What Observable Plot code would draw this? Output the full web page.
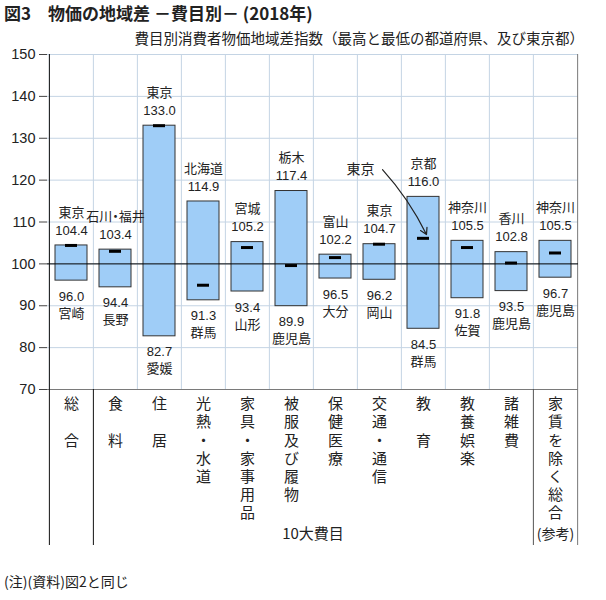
<!DOCTYPE html>
<html><head><meta charset="utf-8">
<script src="https://cdn.jsdelivr.net/npm/d3@7"></script>
<script src="https://cdn.jsdelivr.net/npm/@observablehq/plot@0.6"></script>
<style>
body{margin:0;background:#fff;font-family:"Noto Sans CJK JP",sans-serif;color:#222;}
#wrap{position:relative;width:606px;height:600px;overflow:hidden;background:#fff;}
#title{position:absolute;left:4px;top:0px;font-size:17px;font-weight:bold;white-space:nowrap;}
#subtitle{position:absolute;right:22px;top:27px;font-size:14.5px;white-space:nowrap;}
#chart{position:absolute;left:0;top:46px;}
#note{position:absolute;left:4px;top:571px;font-size:14px;white-space:nowrap;}
</style></head>
<body><div id="wrap">
<div id="title">図3　物価の地域差 －費目別－ (2018年)</div>
<div id="subtitle">費目別消費者物価地域差指数（最高と最低の都道府県、及び東京都）</div>
<div id="chart"></div>
<div id="note">(注)(資料)図2と同じ</div>
</div>
<script>
const categories = ["総合","食料","住居","光熱・水道","家具・家事用品","被服及び履物","保健医療","交通・通信","教育","教養娯楽","諸雑費","家賃を除く総合"];
const categoryLabels = ["総　合","食　料","住　居","光熱・水道","家具・家事用品","被服及び履物","保健医療","交通・通信","教　育","教養娯楽","諸雑費","家賃を除く総合"];
const maxValues = [104.4,103.4,133.0,114.9,105.2,117.4,102.2,104.7,116.0,105.5,102.8,105.5];
const maxPrefs = ["東京","石川・福井","東京","北海道","宮城","栃木","富山","東京","京都","神奈川","香川","神奈川"];
const minValues = [96.0,94.4,82.7,91.3,93.4,89.9,96.5,96.2,84.5,91.8,93.5,96.7];
const minPrefs = ["宮崎","長野","愛媛","群馬","山形","鹿児島","大分","岡山","群馬","佐賀","鹿児島","鹿児島"];
const tokyoValues = [104.4,103.0,133.0,94.9,103.9,99.6,101.5,104.7,106.1,103.9,100.2,102.6];
const yTicks = [70,80,90,100,110,120,130,140,150];
const groupLabel = "10大費目";
const refLabel = "(参考)";
const annotation = {text:"東京", from:"交通・通信", fromY:122.5, to:"教育", toY:107.0};

const data = categories.map((c,i)=>({cat:c,label:categoryLabels[i],max:maxValues[i],maxPref:maxPrefs[i],min:minValues[i],minPref:minPrefs[i],tokyo:tokyoValues[i]}));

const W=606,H=520,mL=47,mR=28,mT=8,mB=177;
const bw=(W-mL-mR)/categories.length;
const plotH=H-mT-mB;
const grid="#c4d4e4";
const jp='"Noto Sans CJK JP",sans-serif';
const num='"Liberation Sans",Arial,sans-serif';

const chart = Plot.plot({
  width:W,height:H,marginLeft:mL,marginRight:mR,marginTop:mT,marginBottom:mB,
  style:{fontFamily:jp,fontSize:"13px",color:"#222",background:"#fff",overflow:"visible"},
  x:{type:"band",domain:categories,padding:0,axis:null},
  y:{domain:[70,150],axis:null},
  marks:[
    Plot.ruleY(yTicks,{stroke:grid}),
    Plot.ruleX(categories,{x:d=>d,dx:-bw/2,stroke:grid}),
    Plot.ruleX([100],{x:()=>categories[categories.length-1],dx:bw/2,stroke:"#7a7a7a"}),
    Plot.ruleY([70],{stroke:"#7a7a7a"}),
    Plot.ruleX([categories[0],categories[1]],{x:d=>d,dx:-bw/2,insetTop:plotH,insetBottom:-156,stroke:"#111"}),
    Plot.ruleX([categories[11]],{x:d=>d,dx:-bw/2,insetTop:plotH,insetBottom:-156,stroke:"#555"}),
    Plot.ruleX([categories[11]],{x:d=>d,dx:bw/2,insetTop:plotH,insetBottom:-156,stroke:"#777"}),
    Plot.barY(data,{x:"cat",y1:"min",y2:"max",fill:"#9fcdf7",stroke:"#333",strokeWidth:1,insetLeft:6,insetRight:6}),
    Plot.ruleY([100],{stroke:"#000",strokeWidth:1}),
    Plot.tickY(data,{x:"cat",y:"tokyo",stroke:"#000",strokeWidth:3,insetLeft:16,insetRight:16}),
    Plot.ruleX([0],{x:()=>categories[0],dx:-bw/2,stroke:"#111"}),
    Plot.axisY({ticks:yTicks,tickSize:8,tickPadding:4,label:null,fontSize:14.5,fontFamily:num,stroke:"#444",fill:"#222"}),
    Plot.text(data,{x:"cat",y:"max",text:d=>d.max.toFixed(1),dy:-15,fontFamily:num,fontSize:13,fill:"#222"}),
    Plot.text(data,{x:"cat",y:"max",text:"maxPref",dy:-33,fontSize:13,fill:"#222"}),
    Plot.text(data,{x:"cat",y:"min",text:d=>d.min.toFixed(1),dy:16,fontFamily:num,fontSize:13,fill:"#222"}),
    Plot.text(data,{x:"cat",y:"min",text:"minPref",dy:33,fontSize:13,fill:"#222"}),
    Plot.text(data,{x:"cat",text:"label",frameAnchor:"bottom",textAnchor:"start",dy:6.5,fontSize:15,fill:"#222"}),
    Plot.text([groupLabel],{text:d=>d,frameAnchor:"bottom",dy:149,fontSize:15,fill:"#222"}),
    Plot.text([refLabel],{x:()=>categories[11],text:d=>d,frameAnchor:"bottom",dy:149,fontSize:14,fill:"#222"}),
    Plot.text([annotation],{x:"from",y:"fromY",text:"text",dx:-19,fontSize:14,fill:"#222"}),
    Plot.arrow([annotation],{x1:"from",y1:"fromY",x2:"to",y2:"toY",dx:3,bend:8,headLength:9,stroke:"#222",strokeWidth:1.2})
  ]
});
const labelSet = new Set(categoryLabels);
const nameSet = new Set([...maxPrefs, ...minPrefs]);
chart.querySelectorAll("text").forEach(t=>{
  const s = t.textContent;
  if (labelSet.has(s)) {
    t.removeAttribute("dy");
    t.setAttribute("writing-mode","tb");
    t.style.writingMode = "vertical-rl";
    t.style.textOrientation = "upright";
    t.style.letterSpacing = "3.2px";
  } else if (nameSet.has(s)) {
    t.style.fontFeatureSettings = '"palt"';
  }
});
document.getElementById("chart").append(chart);
</script>
</body></html>
